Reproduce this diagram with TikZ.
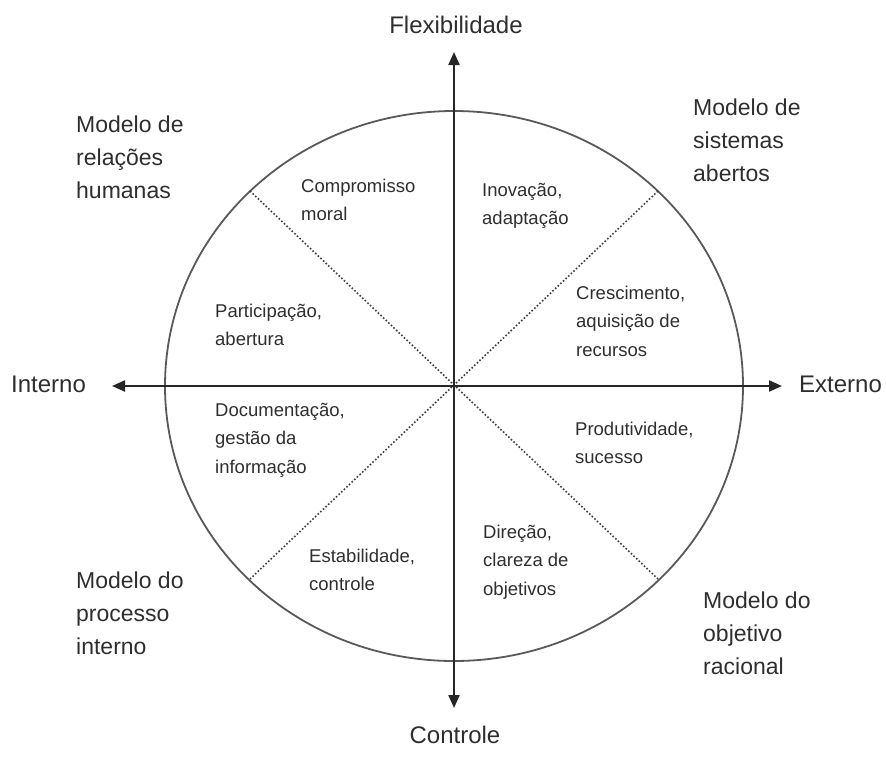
\documentclass[tikz,border=0pt]{standalone}
\usepackage{fontspec}
\setmainfont{Liberation Sans}
\usetikzlibrary{arrows.meta}
\tikzset{
  axis/.style={line width=2.2pt, draw=black!85, {Triangle[length=13pt,width=11pt]}-{Triangle[length=13pt,width=11pt]}},
  rim/.style={line width=1.8pt, draw=black!65},
  divider/.style={line width=1.6pt, draw=black!75, dotted},
  outer/.style={anchor=west, align=left, inner sep=0pt, font=\fontsize{23}{33}\selectfont, text=black!82},
  inner/.style={anchor=west, align=left, inner sep=0pt, font=\fontsize{18.5}{28.5}\selectfont, text=black!82},
  axlabel/.style={inner sep=0pt, font=\fontsize{24}{28}\selectfont, text=black!82}
}
\begin{document}
\begin{tikzpicture}[x=1pt, y=-1pt]
\useasboundingbox (0,0) rectangle (886,756);

% centre and axis ends
\coordinate (O) at (454,386);
\coordinate (top) at (454,52);
\coordinate (bot) at (454,708);
\coordinate (lft) at (112,386);
\coordinate (rgt) at (782,386);

% points where the dotted dividers meet the rim
\coordinate (ne) at (658,191);
\coordinate (nw) at (250,191);
\coordinate (sw) at (250,579);
\coordinate (se) at (658,579);

% rim
\draw[rim] (O) ellipse [x radius=289pt, y radius=275pt];

% dotted dividers
\draw[divider] (nw) -- (se);
\draw[divider] (ne) -- (sw);

% axes
\draw[axis] (bot) -- (top);
\draw[axis] (lft) -- (rgt);

% axis labels
\node[axlabel] (flex) at (456,25) {Flexibilidade};
\node[axlabel] (ctrl) at (455,735) {Controle};
\node[axlabel, anchor=west] (int) at (11,384) {Interno};
\node[axlabel, anchor=west] (ext) at (799,384) {Externo};

% model names
\node[outer] (mrh) at (76,157) {Modelo de\\relações\\humanas};
\node[outer] (msa) at (693,140) {Modelo de\\sistemas\\abertos};
\node[outer] (mpi) at (76,613) {Modelo do\\processo\\interno};
\node[outer] (mor) at (703,633) {Modelo do\\objetivo\\racional};

% sector values
\node[inner] (s1) at (301,200) {Compromisso\\moral};
\node[inner] (s2) at (482,206) {Inovação,\\adaptação};
\node[inner] (s3) at (215,325) {Participação,\\abertura};
\node[inner] (s4) at (576,321) {Crescimento,\\aquisição de\\recursos};
\node[inner] (s5) at (215,440) {Documentação,\\gestão da\\informação};
\node[inner] (s6) at (575,443) {Produtividade,\\sucesso};
\node[inner] (s7) at (309,570) {Estabilidade,\\controle};
\node[inner] (s8) at (483,562) {Direção,\\clareza de\\objetivos};
\end{tikzpicture}
\end{document}
